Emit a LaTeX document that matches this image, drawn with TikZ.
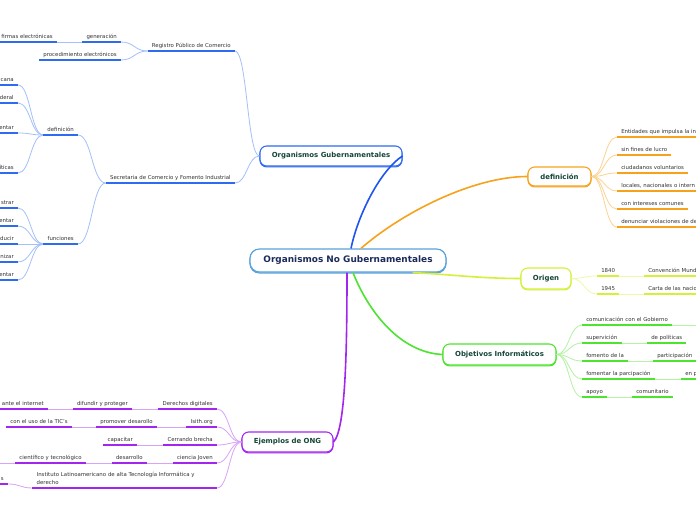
\documentclass[tikz,border=0pt]{standalone}
\usepackage{fontspec}
\setmainfont{DejaVu Sans}
\usetikzlibrary{calc}
\definecolor{bD}{HTML}{2F6BF0}
\definecolor{bL}{HTML}{A4C0F8}
\definecolor{bM}{HTML}{1F55EE}
\definecolor{oD}{HTML}{F7A21C}
\definecolor{oL}{HTML}{FCD293}
\definecolor{yD}{HTML}{D6F03A}
\definecolor{yL}{HTML}{EEF9A8}
\definecolor{gD}{HTML}{4CE42E}
\definecolor{gL}{HTML}{B4F2A2}
\definecolor{pD}{HTML}{A326F0}
\definecolor{pL}{HTML}{D8A4F7}
\definecolor{cB}{HTML}{5CA2DA}
\definecolor{titcol}{HTML}{154538}
\definecolor{maincol}{HTML}{1B2B5A}
\definecolor{leafcol}{HTML}{333333}
\newcommand\leaffont{\fontsize{4.05}{6}\selectfont}
\newcommand\ulx[2]{\draw[#1,ul] (#2.south west) -- (#2.south east);}
\newcommand\ulL[2]{\draw[#1,ul] (EL |- #2.south east) -- (#2.south east);}
\newcommand\ulR[2]{\draw[#1,ul] (#2.south west) -- (ER |- #2.south west);}
\tikzset{
 leaf/.style={font=\leaffont,text=leafcol,inner xsep=3pt,inner ysep=1.4pt,text height=3.1pt,text depth=1.1pt},
 ln/.style={leaf,anchor=south east},
 rn/.style={leaf,anchor=south west},
 ul/.style={line width=1pt},
 lk/.style={line width=0.6pt},
 mc/.style={line width=1.2pt},
 tnode/.style={draw=#1,fill=white,line width=0.8pt,rounded corners=5pt,text=titcol,
   font=\bfseries\fontsize{5.2}{6}\selectfont,inner sep=0pt,
   preaction={draw=#1,line width=0.8pt,transform canvas={yshift=-0.7pt}}},
 hs/.style={to path={let \p1=(\tikztostart),\p2=(\tikztotarget) in
   .. controls ({0.5*\x1+0.5*\x2},\y1) and ({0.5*\x1+0.5*\x2},\y2) .. (\tikztotarget) \tikztonodes}}
}
\begin{document}
\begin{tikzpicture}[x=0.75pt,y=-0.75pt]
\useasboundingbox (0,0) rectangle (696,520);
\fill[white] (0,0) rectangle (696,520);
\coordinate (EL) at (0,0);
\coordinate (ER) at (696,0);

% main nodes
\node[draw=cB,fill=white,line width=0.9pt,rounded corners=7pt,minimum width=147pt,minimum height=17.25pt,
  inner sep=0pt,text=maincol,font=\bfseries\fontsize{6.7}{8}\selectfont,
  preaction={draw=cB,line width=0.9pt,transform canvas={yshift=-0.7pt}}] (ong) at (348,260.5) {Organismos No Gubernamentales};
\node[tnode=bD,minimum width=106.5pt,minimum height=15pt] (gub) at (331,156) {Organismos Gubernamentales};
\node[tnode=oD,minimum width=47.25pt,minimum height=14.25pt] (def) at (559.5,176.5) {definición};
\node[tnode=yD,minimum width=37.5pt,minimum height=15.75pt] (ori) at (546,278.5) {Origen};
\node[tnode=gD,minimum width=84.75pt,minimum height=15.75pt] (obj) at (499.5,354.5) {Objetivos Informáticos};
\node[tnode=pD,minimum width=68.25pt,minimum height=15pt] (ej) at (287.5,442) {Ejemplos de ONG};

% main connectors
\draw[bM,mc] ($(ong.north)+(3,0)$) .. controls +(7,-34) and +(-22,14) .. (gub.east);
\draw[oD,mc] ($(ong.north)+(13,0)$) .. controls +(40,-35) and +(-55,0) .. (def.west);
\draw[yD,mc] ($(ong.south east)+(-34,0)$) .. controls +(40,2) and +(-40,0) .. (ori.west);
\draw[gD,mc] ($(ong.south)+(5,0)$) .. controls +(15,38) and +(-43,-2) .. (obj.west);
\draw[pD,mc] ($(ong.south)+(-1,0)$) .. controls +(0,78) and +(12,-12) .. (ej.east);

% ---------- blue branch
\node[ln] (reg) at (235,51) {Registro Público de Comercio};
\node[ln] (gen) at (121,42) {generación};
\node[ln] (fir) at (57,42) {firmas electrónicas};
\node[ln] (proc) at (121,60) {procedimiento electrónicos};
\node[ln] (sec) at (235,183) {Secretaria de Comercio y Fomento Industrial};
\node[ln] (d1) at (78,135) {definición};
\node[ln] (fun) at (78,244) {funciones};
\node[ln] (dA) at (18,85) {cana};
\node[ln] (dB) at (18,103) {deral};
\node[ln] (dC) at (18,133) {entar};
\node[ln] (dD) at (18,173) {íticas};
\node[ln] (fA) at (18,208) {strar};
\node[ln] (fB) at (18,226) {entar};
\node[ln] (fC) at (18,244) {ducir};
\node[ln] (fD) at (18,262) {nizar};
\node[ln] (fE) at (18,280) {entar};
\begin{scope}[bL,lk]
\draw (gub.west) to[hs] (reg.south east);
\draw (gub.west) to[hs] (sec.south east);
\draw (reg.south west) to[hs] (gen.south east);
\draw (reg.south west) to[hs] (proc.south east);
\draw (fir.south east) -- (gen.south west);
\draw (sec.south west) to[hs] (d1.south east);
\draw (sec.south west) to[hs] (fun.south east);
\foreach \q in {dA,dB,dC,dD} \draw (d1.south west) to[hs] (\q.south east);
\foreach \q in {fA,fB,fC,fD,fE} \draw (fun.south west) to[hs] (\q.south east);
\end{scope}
\ulx{bD}{reg} \ulx{bD}{gen} \ulx{bD}{proc} \ulx{bD}{sec} \ulx{bD}{d1} \ulx{bD}{fun}
\ulL{bD}{fir}
\foreach \q in {dA,dB,dC,dD,fA,fB,fC,fD,fE} {\ulL{bD}{\q}}

% ---------- orange branch
\node[rn] (oA) at (617,137) {Entidades que impulsa la in};
\node[rn] (oB) at (617,155) {sin fines de lucro};
\node[rn] (oC) at (617,173) {ciudadanos voluntarios};
\node[rn] (oDd) at (617,191) {locales, nacionales o intern};
\node[rn] (oE) at (617,209) {con intereses comunes};
\node[rn] (oF) at (617,227) {denunciar violaciones de de};
\foreach \q in {oA,oB,oC,oDd,oE,oF} \draw[oL,lk] (def.east) to[hs] (\q.south west);
\ulR{oD}{oA} \ulx{oD}{oB} \ulx{oD}{oC} \ulR{oD}{oDd} \ulx{oD}{oE} \ulR{oD}{oF}

% ---------- yellow branch
\node[rn] (y1) at (597,276) {1840};
\node[rn] (conv) at (644,276) {Convención Mund};
\node[rn] (y2) at (597,294) {1945};
\node[rn] (carta) at (644,294) {Carta de las nacio};
\begin{scope}[yL,lk]
\draw (ori.east) to[hs] (y1.south west);
\draw (ori.east) to[hs] (y2.south west);
\draw (y1.south east) -- (conv.south west);
\draw (y2.south east) -- (carta.south west);
\end{scope}
\ulx{yD}{y1} \ulx{yD}{y2} \ulR{yD}{conv} \ulR{yD}{carta}

% ---------- green branch
\node[rn] (g1) at (582,325) {comunicación con el Gobierno};
\node[rn] (g2) at (582,343) {supervición};
\node[rn] (g2b) at (647,343) {de políticas};
\node[rn] (g3) at (582,361) {fomento de la};
\node[rn] (g3b) at (653,361) {participación};
\node[rn] (g4) at (582,379) {fomentar la parcipación};
\node[rn] (g4b) at (681,379) {en p};
\node[rn] (g5) at (582,397) {apoyo};
\node[rn] (g5b) at (632,397) {comunitario};
\begin{scope}[gL,lk]
\foreach \q in {g1,g2,g3,g4,g5} \draw (obj.east) to[hs] (\q.south west);
\draw (g1.south east) -- (ER |- g1.south east);
\draw (g2.south east) -- (g2b.south west);
\draw (g3.south east) -- (g3b.south west);
\draw (g4.south east) -- (g4b.south west);
\draw (g5.south east) -- (g5b.south west);
\end{scope}
\ulx{gD}{g1} \ulx{gD}{g2} \ulx{gD}{g2b} \ulx{gD}{g3} \ulR{gD}{g3b} \ulx{gD}{g4} \ulR{gD}{g4b} \ulx{gD}{g5} \ulx{gD}{g5b}

% ---------- purple branch
\node[ln] (dd) at (217,409) {Derechos digitales};
\node[ln] (dp) at (132,409) {difundir y proteger};
\node[ln] (ai) at (48,409) {ante el internet};
\node[ln] (is) at (217,427) {Isith.org};
\node[ln] (pd) at (157,427) {promover desarollo};
\node[ln] (tic) at (72,427) {con el uso de la TIC's};
\node[ln] (cb) at (217,445) {Cerrando brecha};
\node[ln] (cap) at (137,445) {capacitar};
\node[ln] (cj) at (217,463) {ciencia Joven};
\node[ln] (des) at (147,463) {desarrollo};
\node[ln] (ct) at (86,463) {científico y tecnológico};
\node[ln,align=left,text width=132pt,text depth=7.1pt] (ilat) at (217,488) {Instituto Latinoamericano de alta Tecnología Informática y\\derecho};
\node[ln] (s) at (8,484) {s};
\begin{scope}[pL,lk]
\foreach \q in {dd,is,cb,cj,ilat} \draw (ej.west) to[hs] (\q.south east);
\draw (dd.south west) -- (dp.south east);
\draw (dp.south west) -- (ai.south east);
\draw (is.south west) -- (pd.south east);
\draw (pd.south west) -- (tic.south east);
\draw (cb.south west) -- (cap.south east);
\draw (cj.south west) -- (des.south east);
\draw (des.south west) -- (ct.south east);
\draw (EL |- ct.south west) -- (ct.south west);
\draw (ilat.south west) to[hs] (s.south east);
\end{scope}
\foreach \q in {dd,dp,is,pd,tic,cb,cap,cj,des,ct,ilat} {\ulx{pD}{\q}}
\ulL{pD}{ai} \ulL{pD}{s}
\end{tikzpicture}
\end{document}
